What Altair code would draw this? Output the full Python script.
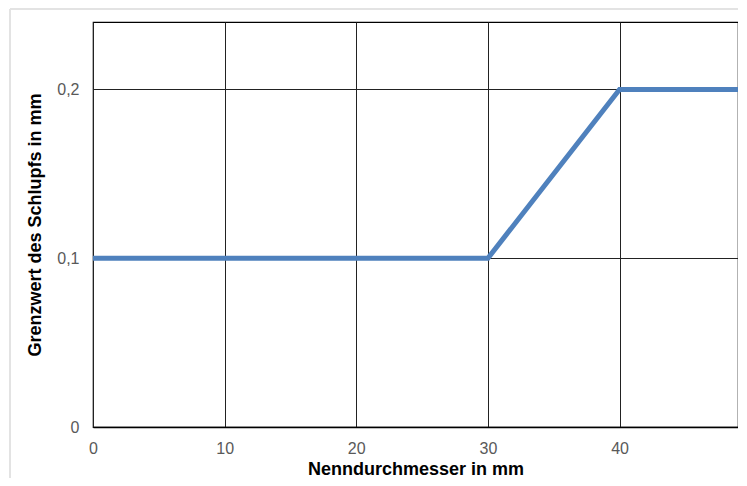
import altair as alt
import pandas as pd

diameter = [0, 30, 40, 49]
limit = [0.1, 0.1, 0.2, 0.2]
x_ticks = [0, 10, 20, 30, 40]
y_ticks = [0, 0.1, 0.2]

df = pd.DataFrame({"d": diameter, "g": limit})

font = "Liberation Sans"

line = alt.Chart(df).mark_line(color="#4F81BD", strokeWidth=5, clip=True).encode(
    x=alt.X("d:Q", scale=alt.Scale(domain=[0, 49], nice=False, zero=True),
            axis=alt.Axis(values=x_ticks, title="Nenndurchmesser in mm", grid=True,
                          gridColor="#222222", gridOpacity=1, gridWidth=1,
                          domainColor="#000000", domainWidth=1.5, ticks=False,
                          labelPadding=13, labelFontSize=16, labelColor="#595959",
                          labelFont=font, titleFont=font, titleFontSize=18,
                          titleFontWeight="bold", titleColor="#000000", titlePadding=4,
                          labelFlush=False)),
    y=alt.Y("g:Q", scale=alt.Scale(domain=[0, 0.24], nice=False),
            axis=alt.Axis(values=y_ticks, title="Grenzwert des Schlupfs in mm", grid=True,
                          gridColor="#222222", gridOpacity=1, gridWidth=1,
                          domain=False, ticks=False,
                          labelExpr="datum.value == 0 ? '0' : replace(format(datum.value, '.1f'), '.', ',')",
                          labelPadding=14, labelFontSize=16, labelColor="#595959",
                          labelFont=font, titleFont=font, titleFontSize=18,
                          titleFontWeight="bold", titleColor="#000000", titlePadding=12)),
)

frame_top = alt.Chart(pd.DataFrame({"a": [0]})).mark_rule(color="#e3e3e3", strokeWidth=2).encode(
    x=alt.value(-83), x2=alt.value(700), y=alt.value(-13)
)
frame_left = alt.Chart(pd.DataFrame({"a": [0]})).mark_rule(color="#e3e3e3", strokeWidth=2).encode(
    x=alt.value(-83), y=alt.value(-13), y2=alt.value(480)
)

chart = alt.layer(frame_top, frame_left, line).properties(
    width=645, height=405,
    padding={"left": 85, "top": 14, "right": 0, "bottom": 51},
    autosize=alt.AutoSizeParams(type="none"),
    background="white",
).configure_view(stroke="#000000", strokeWidth=1.2)

chart.save("out.html", embed_options={"renderer": "svg", "actions": False})
